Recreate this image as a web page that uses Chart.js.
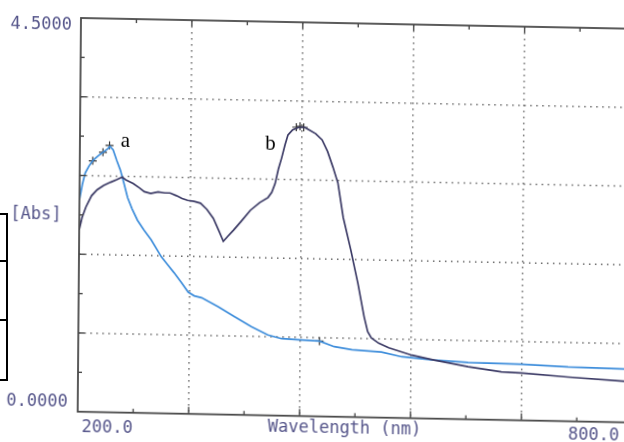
<!DOCTYPE html>
<html>
<head>
<meta charset="utf-8">
<script src="https://cdn.jsdelivr.net/npm/chart.js@4/dist/chart.umd.min.js"></script>
<style>
    html, body { margin: 0; padding: 0; background: #fff; overflow: hidden; width: 624px; height: 442px; }
    #wrap { position: absolute; left: 0; top: 0; transform-origin: 0 0; transform: matrix(1, 0.0195, -0.0084, 1, 3.17, -3.52); }
    .cell { position: absolute; left: -10px; width: 14px; border: 2px solid #000; }
</style>
</head>
<body>
<div id="wrap"><canvas id="specChart" width="660" height="442"></canvas></div>
<div class="cell" style="top:213px;height:45px"></div>
<div class="cell" style="top:260px;height:57px"></div>
<div class="cell" style="top:319px;height:58px"></div>
<script>
// curve a (blue)
const aNm  = [200, 203, 206, 210, 214.5, 220, 225, 230, 232.5, 236, 240, 244, 248, 252, 257, 263, 270, 278, 289, 296, 303, 311, 318.5, 325, 333, 351, 369, 387, 405, 420, 441, 461, 477, 496, 528, 550, 585, 622, 680, 730, 791, 800];
const aAbs = [2.42, 2.60, 2.73, 2.81, 2.88, 2.93, 2.97, 3.01, 3.04, 3.00, 2.88, 2.77, 2.62, 2.46, 2.33, 2.20, 2.09, 1.98, 1.79, 1.70, 1.61, 1.50, 1.39, 1.35, 1.33, 1.23, 1.12, 1.01, 0.92, 0.88, 0.87, 0.86, 0.80, 0.77, 0.75, 0.70, 0.67, 0.65, 0.64, 0.62, 0.61, 0.60];

// curve b (dark)
const bNm  = [200, 203, 207, 213, 219, 226, 233.6, 240, 246, 250, 258, 265, 270, 277, 285, 292, 298, 305, 311, 317, 324, 331, 338, 345, 351, 356, 361, 367, 375, 385, 395, 404, 408, 411.5, 415, 418.5, 422, 425, 430, 437, 443, 448, 455, 462, 468, 474, 479.5, 485.5, 494, 502, 509, 513, 517, 525, 536, 561, 585, 622, 658, 680, 730, 791, 800];
const bAbs = [2.08, 2.22, 2.34, 2.47, 2.54, 2.59, 2.63, 2.66, 2.69, 2.66, 2.62, 2.57, 2.53, 2.51, 2.53, 2.52, 2.52, 2.49, 2.46, 2.44, 2.43, 2.41, 2.34, 2.24, 2.10, 1.98, 2.04, 2.11, 2.21, 2.34, 2.43, 2.49, 2.55, 2.65, 2.82, 2.95, 3.10, 3.21, 3.27, 3.30, 3.30, 3.27, 3.23, 3.16, 3.03, 2.85, 2.67, 2.28, 1.91, 1.53, 1.15, 0.98, 0.91, 0.85, 0.80, 0.72, 0.67, 0.60, 0.55, 0.54, 0.505, 0.47, 0.465];

// peak pick marks
const markNm  = [214, 225, 232, 434, 438, 442, 461];
const markAbs = [2.87, 2.97, 3.05, 3.30, 3.31, 3.30, 0.86];

// curve labels
const labelText = ["a", "b"];
const labelNm   = [249, 406];
const labelAbs  = [3.04, 3.04];

// axis ticks
const xMajor = [320, 440, 560, 680];
const xMinor = [260, 380, 500, 620, 740];
const yMajor = [0.9, 1.8, 2.7, 3.6];
const yMinor = [0.45, 1.35, 2.25, 3.15, 4.05];

const textColor = "#55558a";
const monoFont = '17px "DejaVu Sans Mono"';

const scanFrame = {
    id: "scanFrame",
    beforeDatasetsDraw(chart) {
        const c = chart.ctx;
        const area = chart.chartArea;
        const xs = chart.scales.x;
        const ys = chart.scales.y;
        c.save();
        c.strokeStyle = "#6a6a6a";
        c.lineWidth = 1.5;
        c.setLineDash([1.5, 4.5]);
        xMajor.forEach(v => {
            const px = xs.getPixelForValue(v);
            c.beginPath(); c.moveTo(px, area.top); c.lineTo(px, area.bottom); c.stroke();
        });
        yMajor.forEach(v => {
            const py = ys.getPixelForValue(v);
            c.beginPath(); c.moveTo(area.left, py); c.lineTo(area.right, py); c.stroke();
        });
        c.restore();
    },
    afterDatasetsDraw(chart) {
        const c = chart.ctx;
        const area = chart.chartArea;
        const xs = chart.scales.x;
        const ys = chart.scales.y;
        c.save();
        c.strokeStyle = "#4a4a4a";
        c.lineWidth = 1.8;
        c.strokeRect(area.left, area.top, area.right - area.left, area.bottom - area.top);

        // inward ticks
        c.lineWidth = 1.4;
        const tick = (x1, y1, x2, y2) => { c.beginPath(); c.moveTo(x1, y1); c.lineTo(x2, y2); c.stroke(); };
        yMajor.forEach(v => { const py = ys.getPixelForValue(v); tick(area.left, py, area.left + 6, py); });
        yMinor.forEach(v => { const py = ys.getPixelForValue(v); tick(area.left, py, area.left + 4, py); });
        xMajor.forEach(v => {
            const px = xs.getPixelForValue(v);
            tick(px, area.bottom, px, area.bottom - 7);
            tick(px, area.top, px, area.top + 6);
        });
        xMinor.forEach(v => {
            const px = xs.getPixelForValue(v);
            tick(px, area.bottom, px, area.bottom - 4);
            tick(px, area.top, px, area.top + 4);
        });

        // axis texts
        c.fillStyle = textColor;
        c.font = monoFont;
        c.textBaseline = "middle";
        c.textAlign = "right";
        c.fillText("4.5000", area.left - 9, ys.getPixelForValue(4.5) + 8);
        c.fillText("0.0000", area.left - 10, ys.getPixelForValue(0) - 9);
        c.textAlign = "left";
        c.fillText("[Abs]", 9, (area.top + area.bottom) / 2 + 1);
        c.fillText("200.0", xs.getPixelForValue(200) + 4, area.bottom + 16);
        c.fillText("800.0", xs.getPixelForValue(800) - 64, area.bottom + 14);
        c.textAlign = "center";
        c.fillText("Wavelength (nm)", area.left + 267, area.bottom + 12);

        // a / b
        c.fillStyle = "#000";
        c.font = '21px "Liberation Serif"';
        c.textBaseline = "alphabetic";
        labelText.forEach((t, i) => {
            c.fillText(t, xs.getPixelForValue(labelNm[i]), ys.getPixelForValue(labelAbs[i]));
        });
        c.restore();
    }
};

document.addEventListener("DOMContentLoaded", function() {
    const ctx = document.getElementById("specChart").getContext("2d");

    new Chart(ctx, {
        type: "line",
        data: {
            datasets: [{
                label: "b",
                data: bNm.map((x, i) => ({ x: x, y: bAbs[i] })),
                borderColor: "#3c3b66",
                borderWidth: 1.7,
                pointRadius: 0,
                tension: 0
            }, {
                label: "a",
                data: aNm.map((x, i) => ({ x: x, y: aAbs[i] })),
                borderColor: "#3d8ddb",
                borderWidth: 1.7,
                pointRadius: 0,
                tension: 0
            }, {
                label: "peaks",
                data: markNm.map((x, i) => ({ x: x, y: markAbs[i] })),
                showLine: false,
                pointStyle: "cross",
                pointRadius: 4,
                borderColor: "#333",
                borderWidth: 1.2
            }]
        },
        options: {
            responsive: false,
            devicePixelRatio: 1,
            animation: false,
            layout: { padding: { left: 78, top: 20, right: 27.4, bottom: 28.3 } },
            scales: {
                x: { type: "linear", min: 200, max: 800, display: false },
                y: { min: 0, max: 4.5, display: false }
            },
            plugins: {
                legend: { display: false },
                tooltip: { enabled: false }
            }
        },
        plugins: [scanFrame]
    });
});
</script>
</body>
</html>
